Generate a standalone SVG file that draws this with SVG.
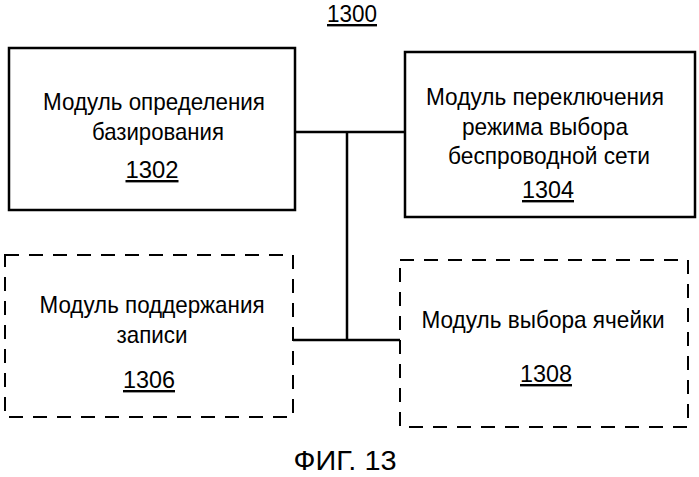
<svg xmlns="http://www.w3.org/2000/svg" width="699" height="477" viewBox="0 0 699 477">
<style>
.b{fill:none;stroke:#000;stroke-width:2.5}
.d{fill:none;stroke:#000;stroke-width:2;stroke-dasharray:14,10}
text{font-family:"Liberation Sans",Arial,sans-serif;font-size:24px;text-anchor:middle;fill:#000}
.u{text-decoration:underline}
</style>
<rect width="699" height="477" fill="#fff"/>
<text x="352" y="22" class="u" textLength="50" lengthAdjust="spacingAndGlyphs">1300</text>
<g id="connectors" stroke="#000" stroke-width="2.5" fill="none">
<path d="M295 132H405M347 132V340M293 340H400"/>
</g>
<g id="n1302"><rect class="b" x="9" y="48" width="286" height="162"/>
<text x="154" y="110" textLength="222" lengthAdjust="spacingAndGlyphs">Модуль определения</text>
<text x="158" y="140" textLength="132" lengthAdjust="spacingAndGlyphs">базирования</text>
<text x="152" y="178" class="u" textLength="53" lengthAdjust="spacingAndGlyphs">1302</text></g>
<g id="n1304"><rect class="b" x="405" y="52" width="290" height="165"/>
<text x="545" y="105" textLength="238" lengthAdjust="spacingAndGlyphs">Модуль переключения</text>
<text x="545" y="135" textLength="166" lengthAdjust="spacingAndGlyphs">режима выбора</text>
<text x="549" y="164" textLength="202" lengthAdjust="spacingAndGlyphs">беспроводной сети</text>
<text x="548" y="198" class="u" textLength="52" lengthAdjust="spacingAndGlyphs">1304</text></g>
<g id="n1306"><rect class="d" x="5" y="255" width="288" height="162"/>
<text x="152" y="313" textLength="225" lengthAdjust="spacingAndGlyphs">Модуль поддержания</text>
<text x="152" y="343" textLength="71" lengthAdjust="spacingAndGlyphs">записи</text>
<text x="149" y="388" class="u" textLength="52" lengthAdjust="spacingAndGlyphs">1306</text></g>
<g id="n1308"><rect class="d" x="400" y="260" width="288" height="167"/>
<text x="543" y="328" textLength="243" lengthAdjust="spacingAndGlyphs">Модуль выбора ячейки</text>
<text x="546" y="382" class="u" textLength="52" lengthAdjust="spacingAndGlyphs">1308</text></g>
<text x="345" y="470" style="font-size:28px" textLength="103" lengthAdjust="spacingAndGlyphs">ФИГ. 13</text>
</svg>
